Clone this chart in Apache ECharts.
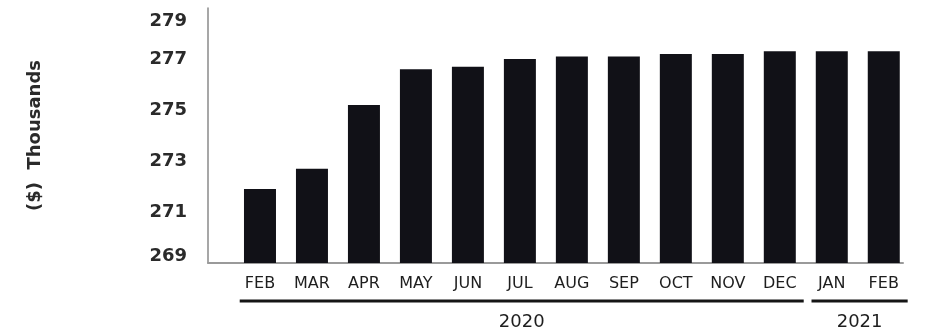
<!DOCTYPE html>
<html>
<head>
<meta charset="utf-8">
<script src="https://cdn.jsdelivr.net/npm/echarts@6/dist/echarts.min.js"></script>
<style>
html,body{margin:0;padding:0;background:#fff;}
#chart{width:935px;height:332px;}
</style>
</head>
<body>
<div id="chart"></div>
<script>
const months = ['FEB','MAR','APR','MAY','JUN','JUL','AUG','SEP','OCT','NOV','DEC','JAN','FEB'];
const values = [271.9, 272.7, 275.2, 276.6, 276.7, 277.0, 277.1, 277.1, 277.2, 277.2, 277.3, 277.3, 277.3];
const years = ['2020', '2021'];
const yearStart = [0, 11];
const yearEnd = [10, 12];
const yTicks = [269, 271, 273, 275, 277, 279];

const chart = echarts.init(document.getElementById('chart'), null, {renderer: 'canvas'});
const yMin = yTicks[0], yMax = yTicks[yTicks.length - 1];

const option = {
  backgroundColor: '#ffffff',
  animation: false,
  grid: {left: 208, right: 32, top: 8, bottom: 69, containLabel: false},
  xAxis: {
    type: 'value',
    min: -1,
    max: 12.37,
    interval: 1,
    splitLine: {show: false},
    axisTick: {show: false},
    axisLine: {show: true, onZero: false, lineStyle: {color: '#9a9a9a', width: 2}},
    axisLabel: {
      margin: 13,
      color: '#1e1e1e',
      fontSize: 16,
      fontFamily: 'DejaVu Sans',
      formatter: function (v) {
        return (Number.isInteger(v) && months[v] !== undefined) ? months[v] : '';
      }
    }
  },
  yAxis: {
    type: 'value',
    min: yMin,
    max: yMax,
    interval: 2,
    name: '($)  Thousands',
    nameLocation: 'middle',
    nameRotate: 90,
    nameGap: 164,
    nameTextStyle: {fontSize: 18, fontWeight: 'bold', color: '#2a2a2a', fontFamily: 'DejaVu Sans'},
    splitLine: {show: false},
    axisTick: {show: false},
    axisLine: {show: true, onZero: false, lineStyle: {color: '#8a8a8a', width: 1.5}},
    axisLabel: {
      margin: 21,
      color: '#2a2a2a',
      fontSize: 18,
      fontWeight: 'bold',
      fontFamily: 'DejaVu Sans',
      formatter: function (v) {
        if (v === yMin) return '{lo|' + v + '}';
        if (v === yMax) return '{hi|' + v + '}';
        return '{n|' + v + '}';
      },
      rich: {
        n: {fontSize: 18, fontWeight: 'bold', color: '#2a2a2a', fontFamily: 'DejaVu Sans'},
        lo: {fontSize: 18, fontWeight: 'bold', color: '#2a2a2a', fontFamily: 'DejaVu Sans', padding: [0, 0, 14, 0]},
        hi: {fontSize: 18, fontWeight: 'bold', color: '#2a2a2a', fontFamily: 'DejaVu Sans', padding: [26, 0, 0, 0]}
      }
    }
  },
  series: [
    {
      type: 'bar',
      barWidth: 32,
      itemStyle: {color: '#111117'},
      data: months.map(function (m, i) { return [i, values[i]]; })
    },
    {
      type: 'custom',
      clip: false,
      encode: {x: [0, 1]},
      data: years.map(function (y, k) { return [yearStart[k], yearEnd[k], k]; }),
      renderItem: function (params, api) {
        const s = api.value(0), e = api.value(1), k = api.value(2);
        const p1 = api.coord([s - 0.39, yMin]);
        const p2 = api.coord([e + 0.46, yMin]);
        const ly = p1[1] + 38;
        return {
          type: 'group',
          children: [
            {type: 'line', shape: {x1: p1[0], y1: ly, x2: p2[0], y2: ly},
             style: {stroke: '#151515', lineWidth: 3}},
            {type: 'text', x: (p1[0] + p2[0]) / 2, y: ly + 21,
             style: {text: years[k], fill: '#1e1e1e', fontSize: 18, fontFamily: 'DejaVu Sans',
                     textAlign: 'center', textVerticalAlign: 'middle'}}
          ]
        };
      }
    }
  ]
};
chart.setOption(option);
</script>
</body>
</html>
